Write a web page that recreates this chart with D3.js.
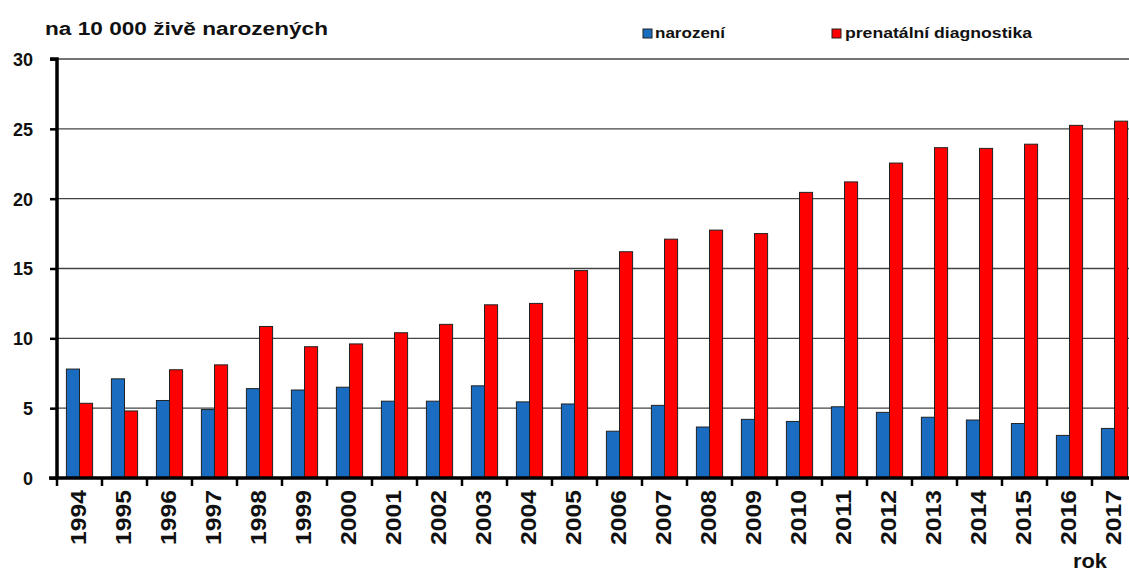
<!DOCTYPE html>
<html><head><meta charset="utf-8">
<script src="https://cdn.jsdelivr.net/npm/d3@7"></script>
<style>body{margin:0;background:#fff}svg{display:block}text{font-family:"Liberation Sans",Arial,sans-serif;font-weight:bold;fill:#111}</style>
</head><body><svg id="c" width="1129" height="574"></svg>
<script>
const years = ["1994","1995","1996","1997","1998","1999","2000","2001","2002","2003","2004","2005","2006","2007","2008","2009","2010","2011","2012","2013","2014","2015","2016","2017"];
const narozeni = [7.8,7.1,5.55,4.9,6.4,6.3,6.5,5.5,5.5,6.6,5.45,5.3,3.35,5.2,3.65,4.2,4.05,5.1,4.7,4.35,4.15,3.9,3.05,3.55];
const prenatalni = [5.35,4.8,7.75,8.1,10.85,9.4,9.6,10.4,11.0,12.4,12.5,14.85,16.2,17.1,17.75,17.5,20.45,21.2,22.55,23.65,23.6,23.9,25.25,25.55];
const seriesNames = ["narození","prenatální diagnostika"];
const colors = ["#1a6cc0","#ff0000"];
const yTicks = [0,5,10,15,20,25,30];
const title = "na 10 000 živě narozených";
const xTitle = "rok";

const svg = d3.select("#c");
const x0 = 57, bw = 45;
const x = d3.scaleBand().domain(years).range([x0, x0 + bw*years.length]).padding(0);
const xs = d3.scaleBand().domain([0,1]).range([9.4, 35.6]).padding(0);
const y = d3.scaleLinear().domain([0,30]).range([478, 59]);

// gridlines
svg.append("g").selectAll("line").data(yTicks.filter(d=>d>0)).join("line")
  .attr("x1", x0).attr("x2", 1129).attr("y1", d=>y(d)).attr("y2", d=>y(d))
  .attr("stroke", "#444").attr("stroke-width", 1.3);

// bars
const data = [narozeni, prenatalni];
data.forEach((vals, si) => {
  svg.append("g").selectAll("rect").data(years).join("rect")
    .attr("x", d => x(d) + xs(si))
    .attr("width", xs.bandwidth())
    .attr("y", (d,i) => y(vals[i]))
    .attr("height", (d,i) => y(0) - y(vals[i]))
    .attr("fill", colors[si]).attr("stroke", "#222").attr("stroke-width", 1);
});

// y axis
const ya = svg.append("g").attr("transform", `translate(${x0},0)`)
  .call(d3.axisLeft(y).tickValues(yTicks).tickSize(7).tickPadding(10).tickFormat(d3.format("d")));
ya.select(".domain").attr("stroke", "#000").attr("stroke-width", 3.5).attr("d", `M-7,${y(30)}H0V${y(0)+1}`);
ya.selectAll(".tick line").attr("stroke", "#000").attr("stroke-width", 2.5);
ya.selectAll(".tick text").attr("font-size", 18).attr("font-weight", "bold").attr("fill", "#111")
  .attr("font-family", '"Liberation Sans",Arial,sans-serif').attr("x", -24).attr("dy", "0.36em");

// x axis
const xa = svg.append("g").attr("transform", `translate(0,${y(0)})`);
xa.append("line").attr("x1", x0-8).attr("x2", 1129).attr("y1", 0).attr("y2", 0)
  .attr("stroke", "#000").attr("stroke-width", 3.5);
xa.selectAll(".tk").data(years).join("line").attr("class","tk")
  .attr("x1", d => x(d)).attr("x2", d => x(d)).attr("y1", 0).attr("y2", 8)
  .attr("stroke", "#000").attr("stroke-width", 2.5);
xa.selectAll(".lb").data(years).join("text").attr("class","lb")
  .attr("transform", d => `translate(${x(d)+x.bandwidth()/2 - 1},12) rotate(-90)`)
  .attr("text-anchor", "end").attr("dy", "0.36em").attr("font-size", 22)
  .attr("textLength", 55).attr("lengthAdjust", "spacingAndGlyphs").text(d => d);

// title
svg.append("text").attr("x", 45).attr("y", 35).attr("font-size", 18)
  .attr("textLength", 283).attr("lengthAdjust", "spacingAndGlyphs").text(title);

// x title
svg.append("text").attr("x", 1073).attr("y", 568).attr("font-size", 20)
  .attr("textLength", 34).attr("lengthAdjust", "spacingAndGlyphs").text(xTitle);

// legend
const leg = [{x:643, tx:655, w:70},{x:832, tx:845, w:187}];
leg.forEach((l, i) => {
  svg.append("rect").attr("x", l.x).attr("y", 29).attr("width", 9).attr("height", 9)
    .attr("fill", colors[i]).attr("stroke", "#222").attr("stroke-width", 1);
  svg.append("text").attr("x", l.tx).attr("y", 38).attr("font-size", 15)
    .attr("textLength", l.w).attr("lengthAdjust", "spacingAndGlyphs").text(seriesNames[i]);
});
</script></body></html>
